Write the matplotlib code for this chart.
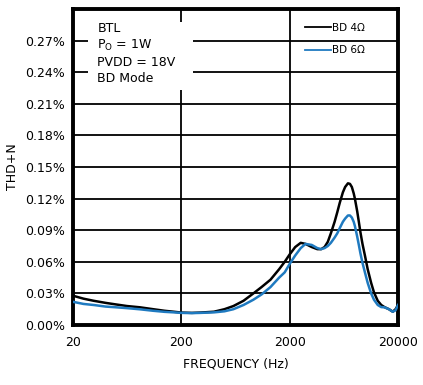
import matplotlib
matplotlib.use('Agg')
import matplotlib.pyplot as plt
from matplotlib.patches import Rectangle
from matplotlib.ticker import FixedLocator, FuncFormatter

plt.rcParams['font.family'] = ['DejaVu Sans']

# Frequency points (Hz)
freq = [20, 25, 31, 40, 50, 63, 83, 110, 140, 170, 200, 250, 300, 400, 500,
        605, 750, 925, 1100, 1330, 1600, 1800, 2000, 2250, 2530, 2800, 3200,
        3600, 3900, 4200, 4500, 4800, 5200, 5500, 5800, 6200, 6500, 6900,
        7200, 7500, 7800, 8000, 8400, 8700, 9000, 9400, 9900, 10500, 11300,
        12000, 13000, 14000, 15000, 16500, 17900, 19000, 20000]

# THD+N in percent
thd_4ohm = [0.0278, 0.025, 0.023, 0.021, 0.0195, 0.018, 0.0168, 0.015, 0.0135,
            0.0126, 0.0118, 0.0115, 0.0118, 0.0126, 0.015, 0.018, 0.023, 0.030,
            0.036, 0.043, 0.053, 0.060, 0.067, 0.074, 0.078, 0.077, 0.074,
            0.072, 0.072, 0.074, 0.079, 0.087, 0.098, 0.107, 0.116, 0.126,
            0.131, 0.1345, 0.134, 0.131, 0.125, 0.120, 0.108, 0.098, 0.088,
            0.077, 0.066, 0.053, 0.040, 0.031, 0.023, 0.019, 0.017, 0.015,
            0.0126, 0.015, 0.019]
thd_6ohm = [0.022, 0.020, 0.019, 0.0175, 0.0168, 0.016, 0.0149, 0.0135, 0.0125,
            0.012, 0.0115, 0.0113, 0.0115, 0.012, 0.013, 0.015, 0.019, 0.024,
            0.029, 0.036, 0.045, 0.050, 0.058, 0.066, 0.073, 0.077, 0.076,
            0.073, 0.072, 0.073, 0.075, 0.078, 0.083, 0.087, 0.092, 0.098,
            0.101, 0.104, 0.104, 0.102, 0.098, 0.094, 0.084, 0.076, 0.068,
            0.059, 0.050, 0.040, 0.030, 0.024, 0.019, 0.017, 0.0168, 0.015,
            0.0126, 0.014, 0.019]

y_ticks = [0.00, 0.03, 0.06, 0.09, 0.12, 0.15, 0.18, 0.21, 0.24, 0.27]
x_ticks = [20, 200, 2000, 20000]

fig = plt.figure(figsize=(4.23, 3.85), dpi=100)
ax = fig.add_axes([73 / 423, 60 / 385, 325 / 423, 316 / 385])

ax.plot(freq, thd_4ohm, color='black', lw=1.8, label='BD 4\u03a9', zorder=3)
ax.plot(freq, thd_6ohm, color='#1f7ac0', lw=1.8, label='BD 6\u03a9', zorder=3)

ax.set_xscale('log')
ax.set_xlim(20, 20000)
ax.set_ylim(0, 0.30)
ax.xaxis.set_major_locator(FixedLocator(x_ticks))
ax.xaxis.set_minor_locator(FixedLocator([]))
ax.xaxis.set_major_formatter(FuncFormatter(lambda v, p: '%d' % v))
ax.set_yticks(y_ticks)
ax.yaxis.set_major_formatter(FuncFormatter(lambda v, p: '%.2f%%' % v))
ax.tick_params(length=0, labelsize=9, pad=6)
ax.tick_params(axis='x', pad=8)

ax.grid(True, color='black', lw=1.3)
for s in ax.spines.values():
    s.set_linewidth(2.8)

ax.set_xlabel('FREQUENCY (Hz)', fontsize=9, labelpad=6)
ax.set_ylabel('THD+N', fontsize=9, labelpad=4)

# white box behind the condition notes, hides the grid there
ax.add_patch(Rectangle((0.046, 0.745), 0.323, 0.215, transform=ax.transAxes,
                       facecolor='white', edgecolor='none', zorder=2.5))
ax.text(0.075, 0.96, 'BTL\nP$_\\mathregular{O}$ = 1W\nPVDD = 18V\nBD Mode',
        transform=ax.transAxes, fontsize=9, va='top', ha='left',
        linespacing=1.3, zorder=4)

leg = ax.legend(loc='upper left', bbox_to_anchor=(0.70, 0.97), frameon=False,
                fontsize=7.5, handlelength=2.5, handletextpad=0.1,
                labelspacing=1.2, borderaxespad=0)
for h in leg.get_lines():
    h.set_linewidth(1.3)

plt.savefig('out.png', dpi=100)
